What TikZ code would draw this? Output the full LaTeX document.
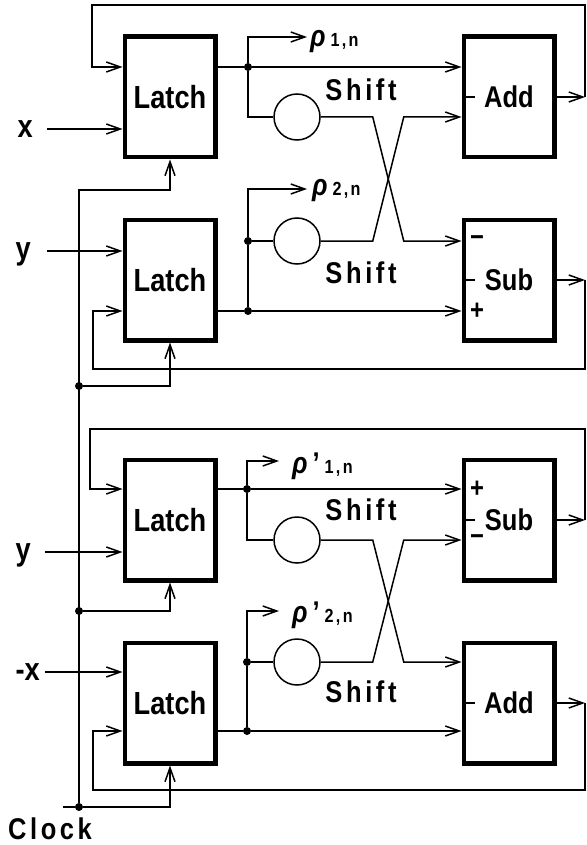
\documentclass[tikz,border=0pt]{standalone}
\usepackage{fontspec}
\newfontfamily\labfont[FakeStretch=0.85]{Liberation Sans}
\newfontfamily\spfont[FakeStretch=0.85,LetterSpace=12]{Liberation Sans}
\usetikzlibrary{arrows.meta,positioning}
\newcommand{\rsub}[1]{{\itshape ρ}\,{\spfont\upshape\bfseries\fontsize{19}{19}\selectfont #1}}
\newcommand{\rpsub}[1]{{\itshape ρ}\,’\,{\spfont\upshape\bfseries\fontsize{19}{19}\selectfont #1}}
\tikzset{
  wire/.style={line width=1.5pt},
  fl/.style={wire,-{Straight Barb[length=14pt,width=10pt]}},
  latch/.style={draw,line width=4.5pt,minimum width=90.5pt,minimum height=120.5pt,inner sep=0pt,
    font=\labfont\bfseries\fontsize{32}{32}\selectfont},
  unit/.style={latch,font=\labfont\bfseries\fontsize{30}{30}\selectfont},
  shc/.style={draw,wire,circle,minimum size=46pt,inner sep=0pt},
  dot/.style={circle,fill,inner sep=0pt,minimum size=8pt},
  sig/.style={font=\labfont\bfseries\fontsize{32}{32}\selectfont,inner sep=0pt,text depth=0pt,anchor=east},
  sgn/.style={font=\labfont\bfseries\fontsize{28}{28}\selectfont,inner sep=0pt},
  shl/.style={font=\spfont\bfseries\fontsize{30}{30}\selectfont,inner sep=0pt},
  rho/.style={font=\labfont\bfseries\fontsize{30}{30}\selectfont,inner sep=0pt,anchor=west},
}
\begin{document}
\begin{tikzpicture}[x=1pt,y=-1pt,node distance=58pt and 244pt]
  \useasboundingbox (0,0) rectangle (586,845);
  \node[latch] (l1) at (170,97) {Latch};
  \node[latch,below=of l1] (l2) {Latch};
  \node[latch,below=115pt of l2] (l3) {Latch};
  \node[latch,below=of l3] (l4) {Latch};
  \node[unit,right=of l1] (add1) {Add};
  \node[unit,right=of l2] (sub1) {Sub};
  \node[unit,right=of l3] (sub2) {Sub};
  \node[unit,right=of l4] (add2) {Add};

  \node[shc] (c1) at (297,117) {};
  \node[shc] (c2) at (297,241) {};
  \node[shc] (c3) at (297,540) {};
  \node[shc] (c4) at (297,662) {};

  \node[dot] (d1) at (248,67) {};
  \node[dot] (d2) at (248,311) {};
  \node[dot] (d2b) at (248,241) {};
  \node[dot] (d3) at (247,489) {};
  \node[dot] (d4) at (247,731) {};
  \node[dot] (d4b) at (247,662) {};
  \node[dot] (ck1) at (79,386) {};
  \node[dot] (ck2) at (79,611) {};
  \node[dot] (ck3) at (79,807) {};

  \coordinate (t1) at (307,37);
  \coordinate (t2) at (307,189);
  \coordinate (t3) at (279,461);
  \coordinate (t4) at (279,611);
  \coordinate (f1) at (585,97);
  \coordinate (f2) at (585,280);
  \coordinate (f3) at (585,520);
  \coordinate (f4) at (585,703);
  \coordinate (g1) at (92,5);
  \coordinate (g2) at (93,369);
  \coordinate (g3) at (90,429);
  \coordinate (g4) at (93,790);
  \coordinate (ck0) at (79,190);
  \coordinate (ckin) at (63,807);

  \node[sig] (ix) at (33,129) {x};
  \node[sig] (iy1) at (31,251) {y};
  \node[sig] (iy2) at (31,552) {y};
  \node[sig] (inx) at (40,672) {-x};
  \node[shl] (clk) at (50,829) {Clock};

  \node[shl] (sh1) at (361,90) {Shift};
  \node[shl] (sh2) at (361,273) {Shift};
  \node[shl] (sh3) at (361,510) {Shift};
  \node[shl] (sh4) at (361,692) {Shift};
  \node[rho] (r1) at (310,42) {\rsub{1,n}};
  \node[rho] (r2) at (312,191) {\rsub{2,n}};
  \node[rho] (r3) at (292,466) {\rpsub{1,n}};
  \node[rho] (r4) at (292,615) {\rpsub{2,n}};

  \node[sgn] (m1) at (477,241) {−};
  \node[sgn] (p1) at (477,311) {+};
  \node[sgn] (p2) at (477,489) {+};
  \node[sgn] (m2) at (477,540) {−};
  \draw[wire] (add1.west) -- ++(13,0);
  \draw[wire] (sub1.west) -- ++(13,0);
  \draw[wire] (sub2.west) -- ++(13,0);
  \draw[wire] (add2.west) -- ++(13,0);

  \draw[fl] ([xshift=14pt]ix.east) -- (l1.west |- ix.east);
  \draw[fl] ([xshift=16pt]iy1.east) -- (l2.west |- iy1.east);
  \draw[fl] ([xshift=14pt]iy2.east) -- (l3.west |- iy2.east);
  \draw[fl] ([xshift=5pt]inx.east) -- (l4.west |- inx.east);

  \draw[wire] (ckin) -- (ck3);
  \draw[fl] (ck3) -- (ck0) -| (l1.south);
  \draw[fl] (ck1) -| (l2.south);
  \draw[fl] (ck2) -| (l3.south);
  \draw[fl] (ck3) -| (l4.south);

  \draw[wire] (l1.east |- d1) -- (d1);
  \draw[fl] (d1) -- (add1.west |- d1);
  \draw[fl] (d1) |- (t1);
  \draw[wire] (d1) |- (c1.west);
  \draw[fl] (c1.east) -- ++(52,0) -- ++(31,124) -- (sub1.west |- c2.east);
  \draw[fl] (c2.east) -- ++(52,0) -- ++(31,-124) -- (add1.west |- c1.east);
  \draw[wire] (l2.east |- d2) -- (d2);
  \draw[fl] (d2) -- (sub1.west |- d2);
  \draw[wire] (d2) -- (d2b) -- (c2.west);
  \draw[fl] (d2b) |- (t2);
  \draw[fl] (add1.east) -- (f1);
  \draw[fl] (f1) |- (g1) |- ([yshift=30pt]l1.west);
  \draw[fl] (sub1.east) -- (f2);
  \draw[fl] (f2) |- (g2) |- ([yshift=-31pt]l2.west);

  \draw[wire] (l3.east |- d3) -- (d3);
  \draw[fl] (d3) -- (sub2.west |- d3);
  \draw[fl] (d3) |- (t3);
  \draw[wire] (d3) |- (c3.west);
  \draw[fl] (c3.east) -- ++(52,0) -- ++(31,122) -- (add2.west |- c4.east);
  \draw[fl] (c4.east) -- ++(52,0) -- ++(31,-122) -- (sub2.west |- c3.east);
  \draw[wire] (l4.east |- d4) -- (d4);
  \draw[fl] (d4) -- (add2.west |- d4);
  \draw[wire] (d4) -- (d4b) -- (c4.west);
  \draw[fl] (d4b) |- (t4);
  \draw[fl] (sub2.east) -- (f3);
  \draw[fl] (f3) |- (g3) |- ([yshift=31pt]l3.west);
  \draw[fl] (add2.east) -- (f4);
  \draw[fl] (f4) |- (g4) |- ([yshift=-28pt]l4.west);
\end{tikzpicture}
\end{document}
